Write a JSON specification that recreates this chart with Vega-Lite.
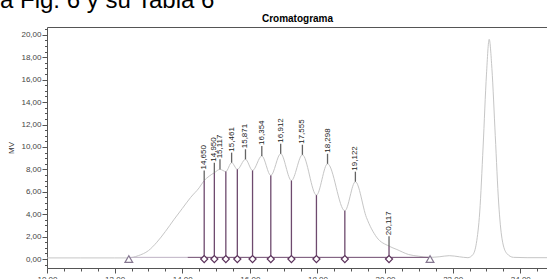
{
  "$schema": "https://vega.github.io/schema/vega-lite/v6.json",
  "autosize": "none",
  "width": 500,
  "height": 241,
  "padding": {"left": 47, "top": 27, "right": 0, "bottom": 11},
  "background": "white",
  "title": {
    "text": "a Fig. 6 y su Tabla 6",
    "anchor": "start",
    "frame": "group",
    "dx": -47,
    "offset": -19,
    "baseline": "alphabetic",
    "font": "Liberation Sans",
    "fontSize": 24,
    "fontWeight": "normal",
    "color": "#000000"
  },
  "config": {
    "view": {"stroke": null},
    "font": "Liberation Sans",
    "title": {"fontSize": 24, "fontWeight": "normal"},
    "axis": {"grid": false}
  },
  "resolve": {"axis": {"x": "independent", "y": "independent"}},
  "datasets": {
    "curve": [
      {"t": 10.0, "v": 0.1}, {"t": 11.0, "v": 0.1}, {"t": 12.0, "v": 0.1}, {"t": 12.4, "v": 0.1},
      {"t": 12.7, "v": 0.3}, {"t": 13.0, "v": 0.75}, {"t": 13.25, "v": 1.5}, {"t": 13.5, "v": 2.45},
      {"t": 13.75, "v": 3.5}, {"t": 14.0, "v": 4.5}, {"t": 14.25, "v": 5.5}, {"t": 14.5, "v": 6.35},
      {"t": 14.65, "v": 7.0}, {"t": 14.8, "v": 7.4}, {"t": 14.95, "v": 7.7}, {"t": 15.117, "v": 8.0},
      {"t": 15.29, "v": 7.8}, {"t": 15.461, "v": 8.6}, {"t": 15.63, "v": 8.0}, {"t": 15.871, "v": 8.9},
      {"t": 16.08, "v": 7.9}, {"t": 16.354, "v": 9.2}, {"t": 16.62, "v": 7.45}, {"t": 16.912, "v": 9.4},
      {"t": 17.23, "v": 7.0}, {"t": 17.555, "v": 9.3}, {"t": 17.97, "v": 5.7}, {"t": 18.298, "v": 8.5},
      {"t": 18.81, "v": 4.3}, {"t": 19.122, "v": 6.9}, {"t": 19.45, "v": 3.7}, {"t": 19.75, "v": 1.95},
      {"t": 20.117, "v": 1.15}, {"t": 20.35, "v": 0.85}, {"t": 20.7, "v": 0.4}, {"t": 21.0, "v": 0.25},
      {"t": 21.3, "v": 0.15}, {"t": 21.6, "v": 0.2}, {"t": 21.9, "v": 0.3}, {"t": 22.2, "v": 0.2},
      {"t": 22.45, "v": 0.12}, {"t": 22.6, "v": 0.4}, {"t": 22.7, "v": 1.4}, {"t": 22.8, "v": 4.2},
      {"t": 22.9, "v": 10.0}, {"t": 23.0, "v": 16.5}, {"t": 23.08, "v": 19.6}, {"t": 23.16, "v": 17.0},
      {"t": 23.26, "v": 11.0}, {"t": 23.36, "v": 5.0}, {"t": 23.46, "v": 1.8}, {"t": 23.6, "v": 0.5},
      {"t": 23.8, "v": 0.15}, {"t": 24.2, "v": 0.12}, {"t": 24.8, "v": 0.12}
    ],
    "baseline": [
      {"t1": 12.42, "t2": 14.16, "b": 0.15, "part": "a"},
      {"t1": 14.16, "t2": 21.33, "b": 0.15, "part": "b"}
    ],
    "drops": [
      {"t": 14.65, "top": 7.0}, {"t": 14.95, "top": 7.7}, {"t": 15.29, "top": 7.8},
      {"t": 15.63, "top": 8.0}, {"t": 16.08, "top": 7.9}, {"t": 16.62, "top": 7.45},
      {"t": 17.23, "top": 7.0}, {"t": 17.97, "top": 5.7}, {"t": 18.81, "top": 4.3},
      {"t": 20.117, "top": 1.15}
    ],
    "peaks": [
      {"t": 14.65, "v": 7.0, "label": "14,650"},
      {"t": 14.95, "v": 7.7, "label": "14,950"},
      {"t": 15.117, "v": 8.0, "label": "15,117"},
      {"t": 15.461, "v": 8.6, "label": "15,461"},
      {"t": 15.871, "v": 8.9, "label": "15,871"},
      {"t": 16.354, "v": 9.2, "label": "16,354"},
      {"t": 16.912, "v": 9.4, "label": "16,912"},
      {"t": 17.555, "v": 9.3, "label": "17,555"},
      {"t": 18.298, "v": 8.5, "label": "18,298"},
      {"t": 19.122, "v": 6.9, "label": "19,122"},
      {"t": 20.117, "v": 1.15, "label": "20,117"}
    ],
    "ends": [{"t": 12.42}, {"t": 21.33}]
  },
  "layer": [
    {
      "data": {"name": "curve"},
      "mark": {"type": "line", "color": "#c6c6c6", "strokeWidth": 1, "interpolate": "monotone"},
      "encoding": {
        "x": {
          "field": "t", "type": "quantitative",
          "scale": {"domain": [10, 24.79], "nice": false, "zero": false},
          "axis": {
            "orient": "bottom", "title": null,
            "values": [10,10.5,11,11.5,12,12.5,13,13.5,14,14.5,15,15.5,16,16.5,17,17.5,18,18.5,19,19.5,20,20.5,21,21.5,22,22.5,23,23.5,24,24.5],
            "labelExpr": "datum.value % 2 === 0 ? replace(format(datum.value, '.2f'), '.', ',') : ''",
            "tickSize": {"condition": {"test": "datum.value % 2 === 0", "value": 5}, "value": 3},
            "labelFontSize": 8, "labelColor": "#444444", "labelPadding": 2,
            "labelFlush": false, "labelOverlap": false,
            "domainColor": "#555555", "tickColor": "#555555"
          }
        },
        "y": {
          "field": "v", "type": "quantitative",
          "scale": {"domain": [-0.8, 20.7], "nice": false, "zero": false},
          "axis": {
            "orient": "left",
            "title": "MV", "titleFontSize": 8, "titleFontWeight": "normal", "titleColor": "#333333", "titlePadding": 5,
            "values": [-0.5,0,0.5,1,1.5,2,2.5,3,3.5,4,4.5,5,5.5,6,6.5,7,7.5,8,8.5,9,9.5,10,10.5,11,11.5,12,12.5,13,13.5,14,14.5,15,15.5,16,16.5,17,17.5,18,18.5,19,19.5,20,20.5],
            "labelExpr": "datum.value % 2 === 0 ? replace(format(datum.value, '.2f'), '.', ',') : ''",
            "tickSize": {"condition": {"test": "datum.value % 2 === 0", "value": 5}, "value": 2.5},
            "labelFontSize": 8, "labelColor": "#444444", "labelPadding": 1, "labelOverlap": false,
            "domainColor": "#555555", "tickColor": "#555555"
          }
        }
      }
    },
    {
      "data": {"name": "baseline"},
      "mark": {"type": "rule", "strokeWidth": 1},
      "encoding": {
        "x": {
          "field": "t1", "type": "quantitative",
          "axis": {
            "orient": "top", "title": "Cromatograma", "titleFontSize": 10, "titleFontWeight": "bold",
            "titleColor": "#000000", "titlePadding": 6, "titleBaseline": "alphabetic",
            "labels": false, "ticks": false, "values": [], "domainColor": "#555555"
          }
        },
        "x2": {"field": "t2"},
        "y": {"field": "b", "type": "quantitative", "axis": null},
        "color": {"field": "part", "type": "nominal", "scale": {"domain": ["a", "b"], "range": ["#bfb3c4", "#6e4a6e"]}, "legend": null}
      }
    },
    {
      "data": {"name": "drops"},
      "mark": {"type": "rule", "color": "#6e4a6e", "strokeWidth": 1.3},
      "encoding": {
        "x": {"field": "t", "type": "quantitative", "axis": null},
        "y": {"field": "top", "type": "quantitative", "axis": null},
        "y2": {"datum": 0}
      }
    },
    {
      "data": {"name": "peaks"},
      "mark": {"type": "tick", "orient": "vertical", "size": 10, "thickness": 1.3, "yOffset": -5, "color": "#222222"},
      "encoding": {
        "x": {"field": "t", "type": "quantitative", "axis": null},
        "y": {"field": "v", "type": "quantitative", "axis": null}
      }
    },
    {
      "data": {"name": "peaks"},
      "mark": {"type": "text", "angle": 270, "align": "left", "baseline": "middle", "dx": 11, "fontSize": 8, "color": "#222222"},
      "encoding": {
        "x": {"field": "t", "type": "quantitative", "axis": null},
        "y": {"field": "v", "type": "quantitative", "axis": null},
        "text": {"field": "label", "type": "nominal"}
      }
    },
    {
      "data": {"name": "drops"},
      "mark": {"type": "point", "shape": "diamond", "filled": true, "fill": "white", "stroke": "#5c335c", "strokeWidth": 1.2, "size": 50, "opacity": 1},
      "encoding": {
        "x": {"field": "t", "type": "quantitative", "axis": null},
        "y": {"datum": 0, "type": "quantitative", "axis": null}
      }
    },
    {
      "data": {"name": "ends"},
      "mark": {"type": "point", "shape": "triangle-up", "filled": true, "fill": "white", "stroke": "#857790", "strokeWidth": 1.2, "size": 60, "opacity": 1},
      "encoding": {
        "x": {"field": "t", "type": "quantitative", "axis": null},
        "y": {"datum": 0, "type": "quantitative", "axis": null}
      }
    }
  ]
}
